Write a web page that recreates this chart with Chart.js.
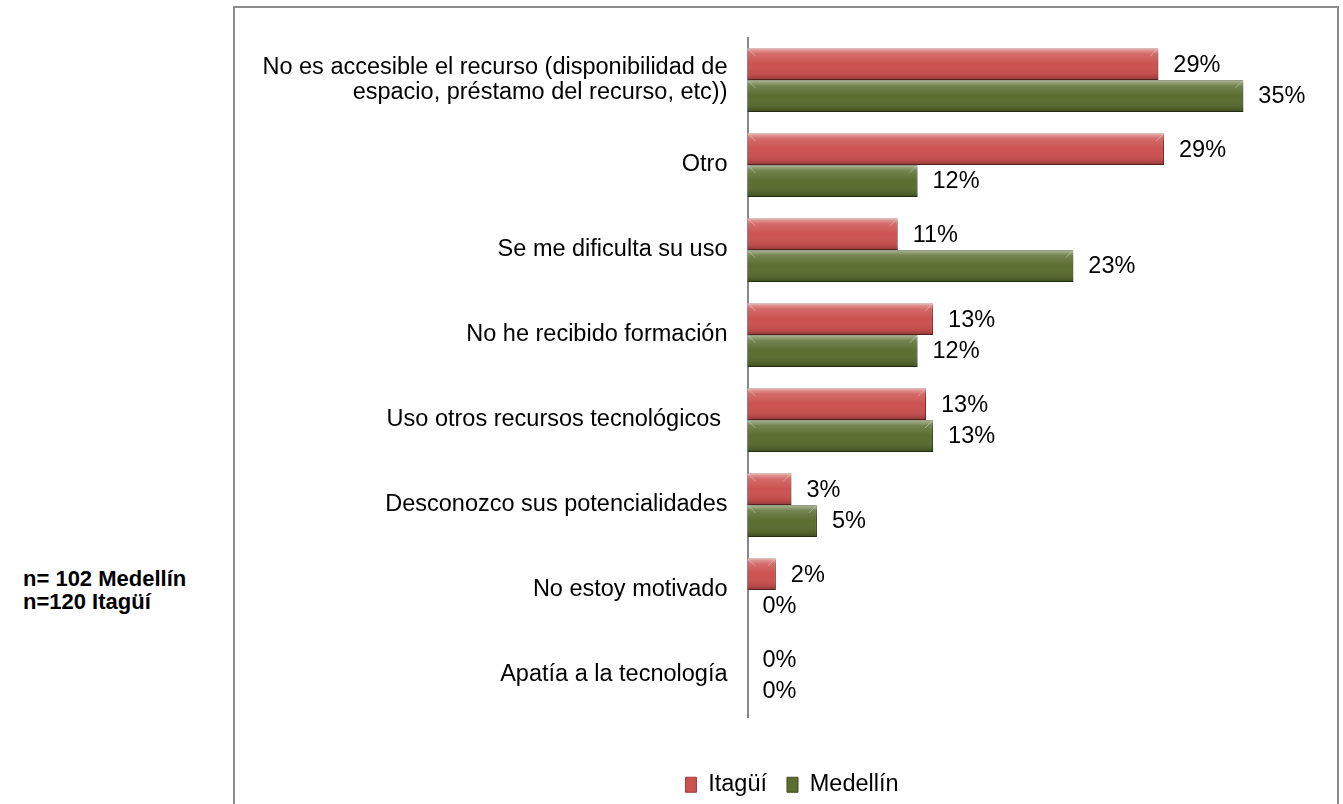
<!DOCTYPE html>
<html>

<head>
    <title>Recursos tecnológicos - barras horizontales</title>
    <script src="https://cdn.jsdelivr.net/npm/chart.js"></script>
    <style>
        body {
            margin: 0;
            overflow: hidden;
            background: #fff;
            font-family: "Liberation Sans", Arial, Helvetica, sans-serif;
        }

        .frame {
            position: absolute;
            left: 233px;
            top: 6px;
            width: 1106px;
            height: 900px;
            border: 2px solid #8c8c8c;
            box-sizing: border-box;
        }

        .chart-wrap {
            position: absolute;
            left: 0;
            top: 0;
            width: 1343px;
            height: 840px;
        }

        .note {
            position: absolute;
            left: 23px;
            top: 567px;
            font-weight: bold;
            font-size: 22px;
            line-height: 23px;
            color: #000;
        }
    </style>
</head>

<body>
    <div class="frame"></div>
    <div class="note">n= 102 Medellín<br>n=120 Itagüí</div>
    <div class="chart-wrap"><canvas id="myChart"></canvas></div>

    <script>
        // categories (top to bottom)
        const categories = [
            ['No es accesible el recurso (disponibilidad de', 'espacio, préstamo del recurso, etc))'],
            'Otro',
            'Se me dificulta su uso',
            'No he recibido formación',
            'Uso otros recursos tecnológicos ',
            'Desconozco sus potencialidades',
            'No estoy motivado',
            'Apatía a la tecnología'
        ];
        // percentages
        const itagui = [29.0, 29.4, 10.6, 13.1, 12.6, 3.1, 2.0, 0];
        const medellin = [35.0, 12.0, 23.0, 12.0, 13.1, 4.9, 0, 0];
        const seriesNames = ['Itagüí', 'Medellín'];

        const FONT = '"Liberation Sans", Arial, Helvetica, sans-serif';
        Chart.defaults.font.family = FONT;
        Chart.defaults.font.size = 23.5;
        Chart.defaults.color = '#000';

        // bevel look + shadow on the bars
        const bevelPlugin = {
            id: 'bevel',
            beforeDatasetsDraw(chart) {
                const ctx = chart.ctx;
                ctx.save();
                ctx.shadowColor = 'rgba(0,0,0,0.35)';
                ctx.shadowBlur = 4;
                ctx.shadowOffsetX = 2;
                ctx.shadowOffsetY = 2;
            },
            afterDatasetsDraw(chart) {
                const ctx = chart.ctx;
                ctx.restore();
                ctx.save();
                chart.data.datasets.forEach((ds, i) => {
                    chart.getDatasetMeta(i).data.forEach(bar => {
                        const { x, y, base, height } = bar.getProps(['x', 'y', 'base', 'height'], true);
                        const w = x - base;
                        if (w <= 0) return;
                        const top = y - height / 2;
                        const g = ctx.createLinearGradient(0, top, 0, top + height);
                        g.addColorStop(0, 'rgba(255,255,255,0.5)');
                        g.addColorStop(0.18, 'rgba(255,255,255,0.15)');
                        g.addColorStop(0.5, 'rgba(255,255,255,0)');
                        g.addColorStop(0.85, 'rgba(0,0,0,0.08)');
                        g.addColorStop(1, 'rgba(0,0,0,0.3)');
                        ctx.fillStyle = g;
                        ctx.fillRect(base, top, w, height);
                        // little corner bevels at the bar end
                        const b = Math.min(8, w / 2);
                        ctx.strokeStyle = 'rgba(255,255,255,0.35)';
                        ctx.lineWidth = 1;
                        ctx.beginPath();
                        ctx.moveTo(x - b, top + b);
                        ctx.lineTo(x - 1, top + 1);
                        ctx.moveTo(base + b, top + b);
                        ctx.lineTo(base + 1, top + 1);
                        ctx.stroke();
                    });
                });
                ctx.restore();
            }
        };

        // value labels at the end of each bar
        const valueLabels = {
            id: 'valueLabels',
            afterDatasetsDraw(chart) {
                const ctx = chart.ctx;
                ctx.save();
                ctx.font = '23.5px ' + FONT;
                ctx.fillStyle = '#000';
                ctx.textAlign = 'left';
                ctx.textBaseline = 'middle';
                chart.data.datasets.forEach((ds, i) => {
                    chart.getDatasetMeta(i).data.forEach((bar, j) => {
                        const { x, y } = bar.getProps(['x', 'y'], true);
                        ctx.fillText(Math.round(ds.data[j]) + '%', x + 15, y + 1);
                    });
                });
                ctx.restore();
            }
        };

        new Chart(document.getElementById('myChart'), {
            type: 'bar',
            data: {
                labels: categories,
                datasets: [
                    {
                        label: seriesNames[0],
                        data: itagui,
                        backgroundColor: '#cc5250',
                        borderColor: '#9e3c3a',
                        borderWidth: 1,
                        categoryPercentage: 0.75,
                        barPercentage: 1.0
                    },
                    {
                        label: seriesNames[1],
                        data: medellin,
                        backgroundColor: '#5a6e30',
                        borderColor: '#3e4d1f',
                        borderWidth: 1,
                        categoryPercentage: 0.75,
                        barPercentage: 1.0
                    }
                ]
            },
            options: {
                indexAxis: 'y',
                responsive: true,
                maintainAspectRatio: false,
                animation: false,
                layout: {
                    padding: { left: 250, right: 9, top: 37.5, bottom: 33.5 }
                },
                scales: {
                    x: {
                        min: 0,
                        max: 41.4,
                        grid: { display: false },
                        border: { display: false },
                        ticks: { display: false },
                        afterFit: (s) => { s.height = 35.5; }
                    },
                    y: {
                        grid: { display: false, drawTicks: false },
                        border: { display: true, color: '#888', width: 2 },
                        ticks: {
                            padding: 20,
                            color: '#000',
                            font: { size: 23.5, lineHeight: 1.07 }
                        },
                        afterFit: (s) => { s.width = 497.5; }
                    }
                },
                plugins: {
                    legend: {
                        position: 'bottom',
                        align: 'center',
                        labels: {
                            boxWidth: 11,
                            boxHeight: 15,
                            padding: 20,
                            color: '#000',
                            font: { size: 23.5 }
                        }
                    },
                    tooltip: { enabled: false }
                }
            },
            plugins: [bevelPlugin, valueLabels]
        });
    </script>
</body>

</html>
